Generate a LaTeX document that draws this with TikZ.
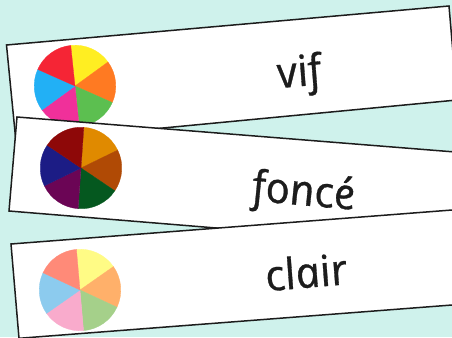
\documentclass[tikz,border=0pt]{standalone}
\usepackage{fontspec}
\setmainfont{Open Sans}[ItalicFeatures={FakeBold=0.7}]
\definecolor{bgc}{HTML}{CFF2EC}
\definecolor{inkc}{HTML}{1C1C1C}
\definecolor{aa}{HTML}{FFEE22}\definecolor{ab}{HTML}{FF7A22}\definecolor{ac}{HTML}{5CBF50}
\definecolor{ad}{HTML}{F0309A}\definecolor{ae}{HTML}{22B0F5}\definecolor{af}{HTML}{F52535}
\definecolor{ba}{HTML}{E08A00}\definecolor{bb}{HTML}{B04A05}\definecolor{bc}{HTML}{05581F}
\definecolor{bd}{HTML}{6B0555}\definecolor{be}{HTML}{1C1C85}\definecolor{bf}{HTML}{8E0808}
\definecolor{ca}{HTML}{FFFB85}\definecolor{cb}{HTML}{FFB06A}\definecolor{cc}{HTML}{A5D08A}
\definecolor{cd}{HTML}{F9ABCC}\definecolor{ce}{HTML}{8CCBEE}\definecolor{cf}{HTML}{FF8A78}
\tikzset{
  cardbox/.style={draw=inkc,fill=white,line width=1.5pt,line join=miter},
  cardword/.style={text=inkc,font=\fontsize{43}{43}\selectfont\itshape,inner sep=0pt,anchor=base,transform shape},
}
\newcommand{\colorpie}[3]{%
  \foreach \c [count=\i from 0] in {a,b,c,d,e,f}{
    \pgfmathsetmacro{\angA}{#3-60*\i}
    \pgfmathsetmacro{\angB}{#3-60*\i-60}
    \filldraw[fill=#2\c,draw=#2\c,line width=0.3pt,line join=round] (#1) -- ++(\angA:40.8pt) arc[start angle=\angA,end angle=\angB,radius=40.8pt] -- cycle;
  }%
}
\begin{document}
\begin{tikzpicture}[x=1pt,y=1pt]
\useasboundingbox (0,0) rectangle (452,337);
\clip (0,0) rectangle (452,337);
\fill[bgc] (0,0) rectangle (452,337);
% card 1
\draw[cardbox] (6.5,292) -- (449,331) -- (457,237) -- (16,195) -- cycle;
\coordinate (p1) at (75,251);
\colorpie{p1}{a}{96}
\node[cardword,rotate=5,xslant=-0.2] (vif) at (303,251) {vif};
% card 2
\draw[cardbox] (17,220) -- (460,184.6) -- (460,89) -- (9,126) -- cycle;
\coordinate (p2) at (81,169);
\colorpie{p2}{b}{86}
\node[cardword,rotate=-5,xslant=-0.2] (fonce) at (305,131.5) {foncé};
% card 3
\draw[cardbox] (11,93) -- (460,127.6) -- (460,32.6) -- (19,-1.3) -- cycle;
\coordinate (p3) at (80,47);
\colorpie{p3}{c}{95}
\node[cardword,rotate=5,xslant=-0.2] (clair) at (310,49.5) {clair};
\end{tikzpicture}
\end{document}
